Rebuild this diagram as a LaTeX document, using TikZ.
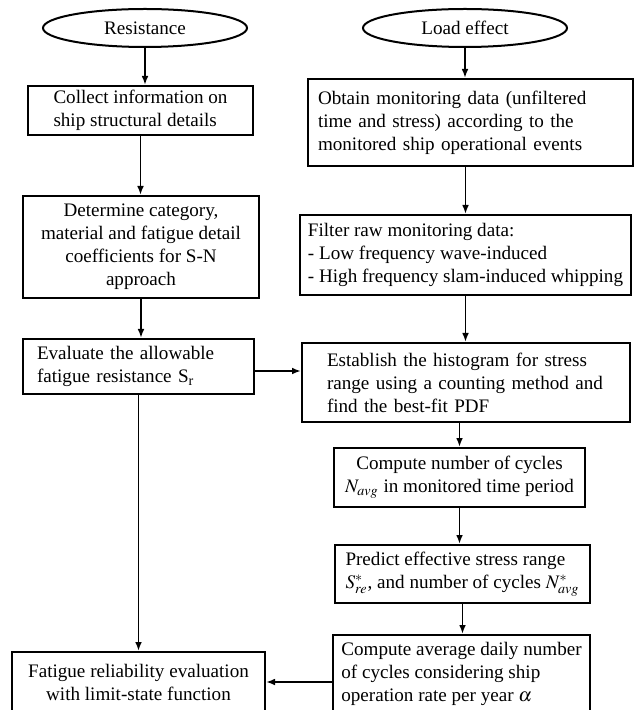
\documentclass[tikz,border=0pt]{standalone}
\usepackage{amsmath, amssymb}
\usepackage{mathptmx}
\usepackage{fontspec}
\setmainfont{Liberation Serif}
\usepackage{tikz}
\usetikzlibrary{shapes.geometric, arrows.meta}

\begin{document}
\begin{tikzpicture}[x=0.5pt, y=-0.5pt,
    font=\fontsize{9.55}{11.5}\selectfont,
    box/.style={draw, line width=1pt, inner xsep=4pt, inner ysep=0pt, align=left},
    oval/.style={draw, ellipse, line width=1pt, inner sep=0pt, minimum width=102pt, minimum height=19pt},
    arr/.style={line width=0.9pt, -{Latex[length=4.5pt, width=3.4pt]}}]
      \useasboundingbox (0,0) rectangle (634,710);
      \node [oval] (R) at (145,28) {Resistance};
      \node [oval] (L) at (465,28) {Load effect};
      \node [box, minimum width=112.5pt, minimum height=24.5pt] (C) at (140.5,110.5) {Collect information on\\ship structural details};
      \node [box, align=center, minimum width=118pt, minimum height=51pt] (D) at (141,247) {Determine category,\\material and fatigue detail\\coefficients for S-N\\approach};
      \node [box, inner xsep=7pt, text width=101.5pt, minimum height=27.5pt] (E) at (138.5,366.5) {Evaluate the allowable\\fatigue resistance S\textsubscript{r}};
      \node [box, align=center, minimum width=126.5pt, minimum height=30pt] (F) at (138.5,682) {Fatigue reliability evaluation\\with limit-state function};
      \node [box, inner xsep=5pt, text width=152.5pt, minimum height=43.5pt] (O) at (470.5,122.5) {Obtain monitoring data (unfiltered\\time and stress) according to the\\monitored ship operational events};
      \node [box, minimum width=162.5pt, minimum height=40pt] (M) at (465.5,255) {Filter raw monitoring data:\\- Low frequency wave-induced\\- High frequency slam-induced whipping};
      \node [box, inner xsep=12.5pt, text width=139pt, minimum height=39.5pt] (H) at (466,382.5) {Establish the histogram for stress\\range using a counting method and\\find the best-fit PDF};
      \node [box, align=center, minimum width=125.5pt, minimum height=29.5pt] (N) at (459.5,477.5) {Compute number of cycles\\$N_{avg}$ in monitored time period};
      \node [box, minimum width=127.5pt, minimum height=29pt] (P) at (462.5,574) {Predict effective stress range\\$S^{*}_{re}$, and number of cycles $N^{*}_{avg}$};
      \node [box, minimum width=126.5pt, minimum height=38.5pt] (Q) at (461.5,673.5) {Compute average daily number\\of cycles considering ship\\operation rate per year $\alpha$};
      \draw [arr] (R.south) to (R.south |- C.north);
      \draw [arr] (C.south) to (C.south |- D.north);
      \draw [arr] (D.south) to (D.south |- E.north);
      \draw [arr] (E.south) to (F.north);
      \draw [arr] ([yshift=-2.25pt]E.east) to ([yshift=-2.25pt]E.east -| H.west);
      \draw [arr] (L.south) to (L.south |- O.north);
      \draw [arr] (M.north |- O.south) to (M.north);
      \draw [arr] (M.south) to (M.south |- H.north);
      \draw [arr] (N.north |- H.south) to (N.north);
      \draw [arr] (N.south) to (N.south |- P.north);
      \draw [arr] (P.south) to (P.south |- Q.north);
      \draw [arr] (Q.west |- F.east) to (F.east);
    \end{tikzpicture}
\end{document}
